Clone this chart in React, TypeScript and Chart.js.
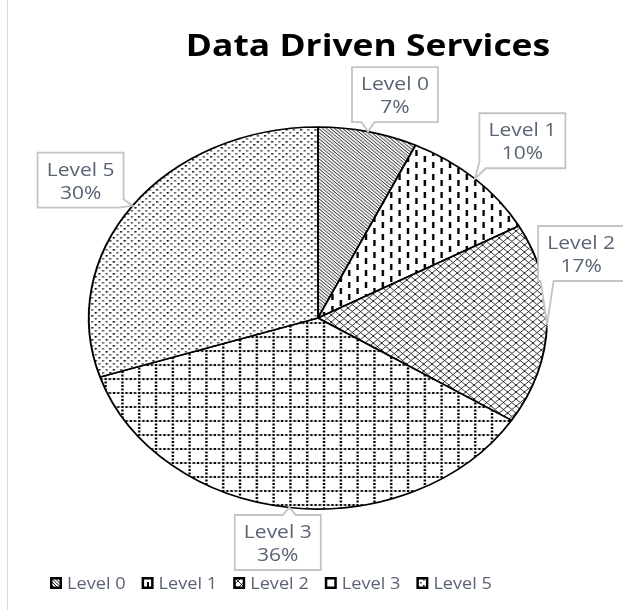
import React, { useEffect, useRef } from 'react';
import { Chart, registerables } from 'chart.js';

Chart.register(...registerables);

// ---- data ----
const categories = ['Level 0', 'Level 1', 'Level 2', 'Level 3', 'Level 5'];
const shares = [7, 10, 17, 36, 30];
const chartTitle = 'Data Driven Services';

// ---- layout / style ----
const W = 623;
const H = 610;
const SX = 1.2; // horizontal stretch of the reference picture
const PIE_R = 191;
const labelOffsets: [number, number][] = [
  [27, -37],
  [47.5, -38],
  [34, -70.5],
  [-11.5, 35],
  [-52, -25.7],
];
const BOX_W = 86;
const BOX_H = 55;
const TEXT_COLOR = '#5a6475';
const BOX_BORDER = '#c4c4c4';
const TITLE_CX = 368;
const TITLE_BASE = 56;
const LEGEND_LEFT = 50;
const LEGEND_CY = 583;
const LEGEND_SX = 1.1;

type Tile = (g: CanvasRenderingContext2D) => void;

function makeTile(w: number, h: number, draw: Tile) {
  const c = document.createElement('canvas');
  c.width = w;
  c.height = h;
  const g = c.getContext('2d')!;
  g.fillStyle = '#fff';
  g.fillRect(0, 0, w, h);
  g.fillStyle = '#000';
  g.strokeStyle = '#000';
  draw(g);
  return c;
}

function makePatterns(ctx: CanvasRenderingContext2D) {
  const tiles = [
    // Level 0: downward diagonal lines
    makeTile(10, 10, (g) => {
      g.lineWidth = 0.9;
      for (let k = -3; k <= 3; k++) {
        const c = (k * 10) / 3;
        g.beginPath();
        g.moveTo(-1, c - 1);
        g.lineTo(11, 11 + c);
        g.stroke();
      }
    }),
    // Level 1: dashed vertical
    makeTile(14, 12, (g) => {
      g.fillRect(0, 0, 2, 6);
      g.fillRect(7, 6, 2, 6);
    }),
    // Level 2: outlined diamond
    makeTile(7, 7, (g) => {
      g.lineWidth = 0.8;
      g.beginPath();
      g.moveTo(-1, -1);
      g.lineTo(8, 8);
      g.moveTo(-1, 8);
      g.lineTo(8, -1);
      g.stroke();
    }),
    // Level 3: dotted grid
    makeTile(14, 14, (g) => {
      for (let k = 0; k < 4; k++) {
        g.fillRect(k * 3.5, 0, 2, 2);
        g.fillRect(0, k * 3.5, 2, 2);
      }
    }),
    // Level 5: dotted diamond
    makeTile(12, 12, (g) => {
      const pts = [
        [0, 0],
        [6, 0],
        [3, 3],
        [9, 3],
        [0, 6],
        [6, 6],
        [3, 9],
        [9, 9],
      ];
      pts.forEach(([x, y], i) => {
        g.fillStyle = i % 3 === 0 ? '#000' : '#444';
        g.fillRect(x, y, 1.6, 1.6);
      });
    }),
  ];
  return tiles.map((t) => ctx.createPattern(t, 'repeat') as CanvasPattern);
}

function stretchedText(
  ctx: CanvasRenderingContext2D,
  text: string,
  x: number,
  y: number,
  align: CanvasTextAlign,
  sx: number = SX
) {
  ctx.save();
  ctx.translate(x, y);
  ctx.scale(sx, 1);
  ctx.textAlign = align;
  ctx.fillText(text, 0, 0);
  ctx.restore();
}

function calloutPath(
  ctx: CanvasRenderingContext2D,
  l: number,
  t: number,
  w: number,
  h: number,
  tipX: number,
  tipY: number,
  baseW: number
) {
  const P = 2 * (w + h);
  const pt = (s: number): [number, number] => {
    s = ((s % P) + P) % P;
    if (s < w) return [l + s, t];
    if (s < w + h) return [l + w, t + (s - w)];
    if (s < 2 * w + h) return [l + w - (s - w - h), t + h];
    return [l, t + h - (s - 2 * w - h)];
  };
  const clamp = (v: number, a: number, b: number) => Math.max(a, Math.min(b, v));
  const cands: [number, number][] = [];
  {
    const px = clamp(tipX, l, l + w);
    cands.push([Math.hypot(px - tipX, t - tipY), px - l]);
    cands.push([Math.hypot(px - tipX, t + h - tipY), w + h + (l + w - px)]);
    const py = clamp(tipY, t, t + h);
    cands.push([Math.hypot(l + w - tipX, py - tipY), w + (py - t)]);
    cands.push([Math.hypot(l - tipX, py - tipY), 2 * w + h + (t + h - py)]);
  }
  cands.sort((a, b) => a[0] - b[0]);
  const s0 = cands[0][1];
  const s1 = s0 + baseW / 2;
  const s2 = s0 - baseW / 2;
  const span = (((s2 - s1) % P) + P) % P;
  const corners = [0, w, w + h, 2 * w + h]
    .map((c) => ({ c, off: (((c - s1) % P) + P) % P }))
    .filter((o) => o.off > 0 && o.off < span)
    .sort((a, b) => a.off - b.off);
  ctx.beginPath();
  const p1 = pt(s1);
  ctx.moveTo(p1[0], p1[1]);
  corners.forEach((o) => {
    const p = pt(o.c);
    ctx.lineTo(p[0], p[1]);
  });
  const p2 = pt(s2);
  ctx.lineTo(p2[0], p2[1]);
  ctx.lineTo(tipX, tipY);
  ctx.closePath();
}

export default function App() {
  const ref = useRef<HTMLCanvasElement>(null);

  useEffect(() => {
    const canvas = ref.current!;
    const ctx0 = canvas.getContext('2d')!;
    const patterns = makePatterns(ctx0);

    const stretchPlugin = {
      id: 'stretch',
      beforeDatasetsDraw(chart: any) {
        const arc = chart.getDatasetMeta(0).data[0];
        const ctx = chart.ctx;
        ctx.save();
        ctx.translate(arc.x, 0);
        ctx.scale(SX, 1);
        ctx.translate(-arc.x, 0);
      },
      afterDatasetsDraw(chart: any) {
        chart.ctx.restore();
      },
    };

    const decorPlugin = {
      id: 'decor',
      beforeDraw(chart: any) {
        const ctx = chart.ctx as CanvasRenderingContext2D;
        ctx.save();
        ctx.fillStyle = '#fff';
        ctx.fillRect(0, 0, W, H);
        ctx.strokeStyle = '#d9d9d9';
        ctx.lineWidth = 1;
        ctx.beginPath();
        ctx.moveTo(7.5, 0);
        ctx.lineTo(7.5, H);
        ctx.stroke();
        ctx.restore();
      },
      afterDraw(chart: any) {
        const ctx = chart.ctx as CanvasRenderingContext2D;
        const meta = chart.getDatasetMeta(0);
        ctx.save();
        // title
        ctx.fillStyle = '#000';
        ctx.font = 'bold 29.5px "Open Sans"';
        ctx.textBaseline = 'alphabetic';
        stretchedText(ctx, chartTitle, TITLE_CX, TITLE_BASE, 'center');

        // data labels (callouts)
        meta.data.forEach((el: any, i: number) => {
          const p = el.getProps(['x', 'y', 'startAngle', 'endAngle', 'outerRadius'], true);
          const mid = (p.startAngle + p.endAngle) / 2;
          const tipX = p.x + SX * p.outerRadius * Math.cos(mid);
          const tipY = p.y + p.outerRadius * Math.sin(mid);
          const cx = tipX + labelOffsets[i][0];
          const cy = tipY + labelOffsets[i][1];
          const l = cx - BOX_W / 2;
          const t = cy - BOX_H / 2;
          calloutPath(ctx, l, t, BOX_W, BOX_H, tipX, tipY, 13);
          ctx.fillStyle = '#fff';
          ctx.fill();
          ctx.strokeStyle = BOX_BORDER;
          ctx.lineWidth = 1.8;
          ctx.lineJoin = 'miter';
          ctx.stroke();
          ctx.fillStyle = TEXT_COLOR;
          ctx.font = '17.5px "Open Sans"';
          stretchedText(ctx, categories[i], cx, t + 23, 'center');
          stretchedText(ctx, `${shares[i]}%`, cx, t + 46, 'center');
        });

        // legend
        ctx.font = '16.5px "Open Sans"';
        const sw = 12;
        const gap = 5;
        const itemGap = 16;
        const widths = categories.map((c) => sw + gap + ctx.measureText(c).width * LEGEND_SX);
        let x = LEGEND_LEFT;
        categories.forEach((c, i) => {
          const y0 = LEGEND_CY - sw / 2;
          ctx.fillStyle = '#000';
          ctx.fillRect(x, y0, sw, sw);
          ctx.fillStyle = patterns[i];
          ctx.fillRect(x + 2.5, y0 + 2.5, sw - 5, sw - 5);
          ctx.fillStyle = TEXT_COLOR;
          stretchedText(ctx, c, x + sw + gap, LEGEND_CY + 6, 'left', LEGEND_SX);
          x += widths[i] + itemGap;
        });
        ctx.restore();
      },
    };

    const chart = new Chart(canvas, {
      type: 'pie',
      data: {
        labels: categories,
        datasets: [
          {
            data: shares,
            backgroundColor: patterns,
            borderColor: '#000',
            borderWidth: 1.6,
            radius: PIE_R,
          } as any,
        ],
      },
      options: {
        responsive: false,
        animation: false,
        devicePixelRatio: 1,
        layout: { padding: { left: 13, right: 0, top: 26, bottom: 0 } },
        plugins: {
          legend: { display: false },
          tooltip: { enabled: false },
          title: { display: false },
        },
        events: [],
      },
      plugins: [decorPlugin, stretchPlugin],
    });

    return () => chart.destroy();
  }, []);

  return (
    <div style={{ position: 'absolute', left: 0, top: 0, width: W, height: H, background: '#fff' }}>
      <canvas ref={ref} width={W} height={H} style={{ display: 'block' }} />
    </div>
  );
}
